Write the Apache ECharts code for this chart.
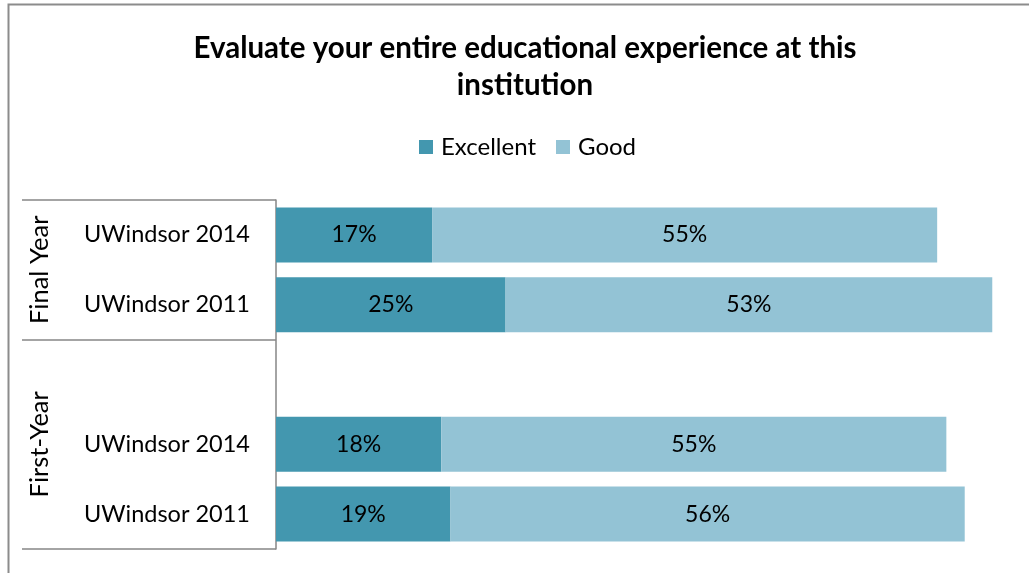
<!DOCTYPE html>
<html>
<head>
<meta charset="utf-8">
<script src="https://cdn.jsdelivr.net/npm/echarts@6/dist/echarts.min.js"></script>
<style>
html,body{margin:0;padding:0;background:#fff;}
#c{width:1029px;height:573px;}
</style>
</head>
<body>
<div id="c"></div>
<script>
var titleText = 'Evaluate your entire educational experience at this\ninstitution';
var seriesNames = ['Excellent', 'Good'];
var categories = ['Final Year|UWindsor 2014', 'Final Year|UWindsor 2011', '', 'First-Year|UWindsor 2014', 'First-Year|UWindsor 2011'];
var excellent = [17, 25, '-', 18, 19];
var good = [55, 53, '-', 55, 56];
var groupSlots = ['', '', 'Final Year', '', '', '', '', 'First-Year', '', '', ''];
var groupBoundaries = [0, 4, 10];

var FONT = 'Lato';
var chart = echarts.init(document.getElementById('c'));
var option = {
  backgroundColor: '#fff',
  animation: false,
  textStyle: { fontFamily: FONT },
  title: {
    text: titleText,
    left: 520, textAlign: 'center', top: 25,
    textStyle: { fontFamily: FONT, fontSize: 29.5, fontWeight: 'bold', color: '#000', lineHeight: 37 }
  },
  legend: {
    data: seriesNames,
    top: 130, left: 414,
    itemWidth: 14, itemHeight: 14, itemGap: 20,
    icon: 'rect',
    textStyle: { fontFamily: FONT, fontSize: 24, color: '#000', padding: [0, 0, 0, 3] }
  },
  grid: { left: 276, top: 200, right: 0, height: 349, containLabel: false },
  xAxis: { type: 'value', min: 0, max: 82, show: false },
  yAxis: [{
    type: 'category', inverse: true, data: categories,
    axisLine: { show: true, lineStyle: { color: '#868686', width: 1.5 } },
    axisTick: { show: false },
    axisLabel: {
      margin: 26, fontFamily: FONT, fontSize: 23.5, color: '#000',
      formatter: function (v) { var p = v.split('|'); return p.length > 1 ? p[1] : ''; }
    }
  }, {
    type: 'category', inverse: true, data: groupSlots, boundaryGap: false,
    position: 'left',
    axisLine: { show: false },
    axisTick: {
      show: true, length: 254, lineStyle: { color: '#868686', width: 1.5 },
      interval: function (i) { return groupBoundaries.indexOf(i) >= 0; }
    },
    axisLabel: {
      interval: 0, rotate: 90, margin: 236, fontFamily: FONT, fontSize: 25.5, color: '#000',
      align: 'center', verticalAlign: 'middle'
    }
  }],
  series: [{
    name: seriesNames[0], type: 'bar', stack: 'a', data: excellent, barWidth: 55,
    itemStyle: { color: '#4397AF' },
    label: { show: true, position: 'inside', formatter: '{c}%', fontFamily: FONT, fontSize: 23, color: '#000' }
  }, {
    name: seriesNames[1], type: 'bar', stack: 'a', data: good, barWidth: 55,
    itemStyle: { color: '#93C3D5' },
    label: { show: true, position: 'inside', formatter: '{c}%', fontFamily: FONT, fontSize: 23, color: '#000' }
  }],
  graphic: [{
    type: 'polyline', silent: true,
    shape: { points: [[8.5, 600], [8.5, 4.5], [1100, 4.5]] },
    style: { stroke: '#8c8c8c', lineWidth: 2, fill: null }
  }]
};
chart.setOption(option);
</script>
</body>
</html>
